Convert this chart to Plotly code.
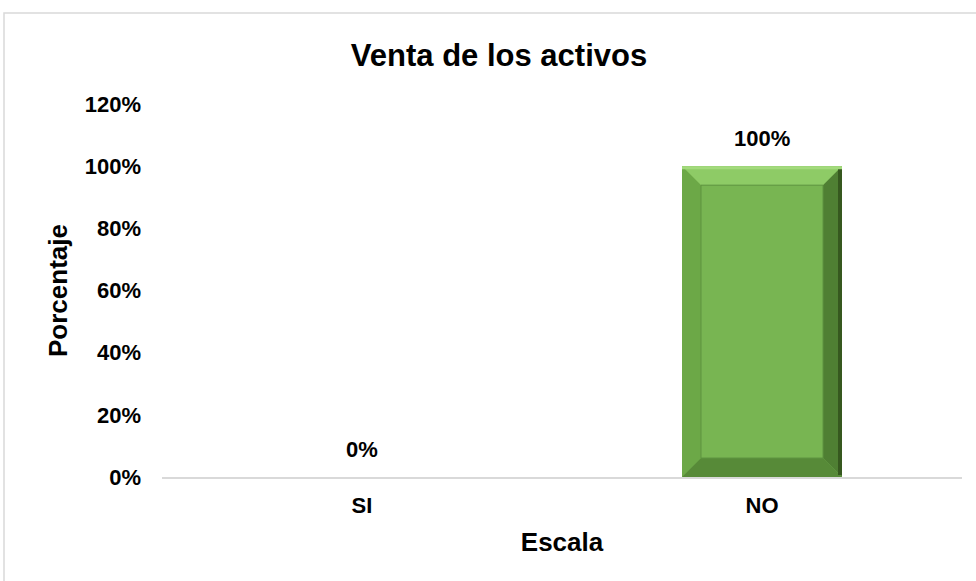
import plotly.graph_objects as go

categories = ["SI", "NO"]
values = [0.0, 1.0]
value_labels = ["0%", "100%"]
ytick_vals = [0, 0.2, 0.4, 0.6, 0.8, 1.0, 1.2]
ytick_text = ["0%", "20%", "40%", "60%", "80%", "100%", "120%"]

W, H = 976, 581
ML, MR, MT, MB = 162, 14, 104, 104
plot_w = W - ML - MR
plot_h = H - MT - MB
xr = [-0.5, len(categories) - 0.5]
yr = [0, 1.2]
bw = 0.4
px_x = plot_w / (xr[1] - xr[0])
px_y = plot_h / (yr[1] - yr[0])
bev_x = 19 / px_x
bev_y = 19 / px_y

xs = list(range(len(categories)))
font = "Liberation Sans, Arial, sans-serif"

fig = go.Figure()
fig.add_trace(go.Bar(
    x=xs, y=values, width=bw,
    marker=dict(color="#78B552", line=dict(width=0)),
    hoverinfo="skip",
))

annotations = []
for x, v, lab in zip(xs, values, value_labels):
    annotations.append(dict(x=x, y=v, xref="x", yref="y", text=f"<b>{lab}</b>", showarrow=False,
                            yanchor="bottom", yshift=13,
                            font=dict(family=font, size=22, color="black")))

def path(pts):
    return "M " + " L ".join(f"{a},{b}" for a, b in pts) + " Z"

shapes = []
for x, v in zip(xs, values):
    if v <= 0:
        continue
    x0, x1 = x - bw / 2, x + bw / 2
    y0, y1 = 0, v
    ix0, ix1 = x0 + bev_x, x1 - bev_x
    iy0, iy1 = y0 + bev_y, y1 - bev_y
    shapes.append(dict(type="path", xref="x", yref="y", path=path([(x0, y1), (x1, y1), (ix1, iy1), (ix0, iy1)]),
                       fillcolor="#8ECB66", line=dict(width=0)))
    shapes.append(dict(type="path", xref="x", yref="y", path=path([(x0, y1), (ix0, iy1), (ix0, iy0), (x0, y0)]),
                       fillcolor="#6CA847", line=dict(width=0)))
    shapes.append(dict(type="path", xref="x", yref="y", path=path([(x1, y1), (x1, y0), (ix1, iy0), (ix1, iy1)]),
                       fillcolor="#4F7F33", line=dict(width=0)))
    shapes.append(dict(type="path", xref="x", yref="y", path=path([(x0, y0), (ix0, iy0), (ix1, iy0), (x1, y0)]),
                       fillcolor="#578A38", line=dict(width=0)))
    shapes.append(dict(type="rect", xref="x", yref="y", x0=ix0, x1=ix1, y0=iy0, y1=iy1,
                       fillcolor="#78B552", line=dict(color="#5F9340", width=1)))
    shapes.append(dict(type="rect", xref="x", yref="y", x0=x1 - 4 / px_x, x1=x1, y0=y0 + 2 / px_y, y1=y1 - 2 / px_y,
                       fillcolor="#36581F", line=dict(width=0)))
    shapes.append(dict(type="rect", xref="x", yref="y", x0=x0, x1=x1, y0=y1 - 3 / px_y, y1=y1,
                       fillcolor="#A3DA7C", line=dict(width=0)))

shapes.append(dict(type="rect", xref="paper", yref="paper",
                   x0=(4 - ML) / plot_w, x1=(980 - ML) / plot_w,
                   y0=-0.3, y1=(H - MB - 13) / plot_h,
                   line=dict(color="#D9D9D9", width=1.5), fillcolor="rgba(0,0,0,0)", layer="below"))

fig.update_layout(
    width=W, height=H,
    margin=dict(l=ML, r=MR, t=MT, b=MB),
    paper_bgcolor="white", plot_bgcolor="white",
    showlegend=False,
    shapes=shapes,
    annotations=annotations,
    title=dict(text="<b>Venta de los activos</b>", x=499 / W, xanchor="center",
               y=1 - 55 / H, yanchor="middle",
               font=dict(family=font, size=31, color="black")),
    xaxis=dict(range=xr, tickvals=xs, ticktext=[f"<b>{c}</b>" for c in categories], showgrid=False,
               showline=True, linecolor="#D9D9D9", linewidth=2, ticks="", zeroline=False,
               ticklabelstandoff=8,
               tickfont=dict(family=font, size=22, color="black"),
               title=dict(text="<b>Escala</b>", font=dict(family=font, size=26, color="black"), standoff=15)),
    yaxis=dict(range=yr, tickvals=ytick_vals, ticktext=[f"<b>{t}</b>" for t in ytick_text],
               showgrid=False, showline=False, zeroline=False, ticks="",
               ticklabelstandoff=20,
               tickfont=dict(family=font, size=22, color="black"),
               title=dict(text="<b>Porcentaje</b>", font=dict(family=font, size=26, color="black"), standoff=9)),
)

fig.write_html("out.html", config={"displayModeBar": False},
               post_script="document.body.style.margin='0px';")
